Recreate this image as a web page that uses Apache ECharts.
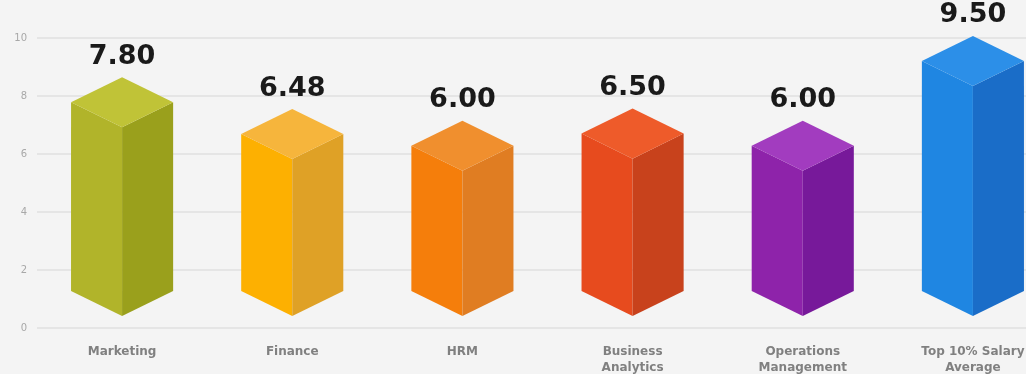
<!DOCTYPE html>
<html>
<head>
<meta charset="utf-8">
<script src="https://cdn.jsdelivr.net/npm/echarts@6/dist/echarts.min.js"></script>
<style>
  html, body { margin: 0; padding: 0; background: #f4f4f4; }
  #chart { width: 1026px; height: 374px; }
</style>
</head>
<body>
<div id="chart"></div>
<script>
const categories = ['Marketing', 'Finance', 'HRM', 'Business\nAnalytics', 'Operations\nManagement', 'Top 10% Salary\nAverage'];
const values = [7.80, 6.48, 6.00, 6.50, 6.00, 9.50];
const yTickMin = 0;
const yTickMax = 10;
const yTickStep = 2;
const topColors = ['#c0c337', '#f6b53c', '#f08f2e', '#ee5b2a', '#a23cbf', '#2c8fe8'];
const leftColors = ['#b1b42a', '#fdb001', '#f57e0b', '#e74b1e', '#8e23aa', '#1f86e2'];
const rightColors = ['#9aa01c', '#dfa126', '#e07d22', '#c8421c', '#77199a', '#1a6dc8'];

const chart = echarts.init(document.getElementById('chart'));

function renderItem(params, api) {
  const i = api.value(0);
  const v = api.value(1);
  const top = api.coord([i, v]);
  const base = api.coord([i, 0]);
  const band = api.size([1, 0])[0];
  const hw = band * 0.30;
  const hh = hw * 0.49;
  const cx = top[0], ty = top[1], by = base[1];
  return {
    type: 'group',
    children: [
      { type: 'polygon', shape: { points: [[cx - hw, ty], [cx, ty + hh], [cx, by + hh], [cx - hw, by]] },
        style: { fill: leftColors[i] } },
      { type: 'polygon', shape: { points: [[cx, ty + hh], [cx + hw, ty], [cx + hw, by], [cx, by + hh]] },
        style: { fill: rightColors[i] } },
      { type: 'polygon', shape: { points: [[cx, ty - hh], [cx + hw, ty], [cx, ty + hh], [cx - hw, ty]] },
        style: { fill: topColors[i] } },
      { type: 'text', style: { text: v.toFixed(2), x: cx, y: ty - hh - 7, align: 'center', verticalAlign: 'bottom',
          fontSize: 27, fontWeight: 'bold', fontFamily: 'DejaVu Sans', fill: '#1a1a1a' } }
    ]
  };
}

chart.setOption({
  backgroundColor: '#f4f4f4',
  animation: false,
  grid: { left: 37, width: 1021, top: 38, height: 290, containLabel: false, outerBoundsMode: 'none' },
  xAxis: {
    type: 'category',
    data: categories,
    axisLine: { show: false },
    axisTick: { show: false },
    axisLabel: { margin: 16, fontSize: 12, fontWeight: 'bold', color: '#808080', fontFamily: 'DejaVu Sans', lineHeight: 16, interval: 0 }
  },
  yAxis: [
    {
      type: 'value', min: yTickMin, max: yTickMax, interval: yTickStep,
      axisLine: { show: false }, axisTick: { show: false },
      axisLabel: { fontSize: 10, color: '#a8a8a8', margin: 10, fontFamily: 'DejaVu Sans' },
      splitLine: { lineStyle: { color: '#e0e0e0', width: 1.5 } }
    },
    { type: 'value', min: -1.53, max: 10.45, show: false, splitLine: { show: false } }
  ],
  series: [{
    type: 'custom',
    yAxisIndex: 1,
    renderItem: renderItem,
    data: values.map((v, i) => [i, v]),
    clip: false
  }]
});
</script>
</body>
</html>
